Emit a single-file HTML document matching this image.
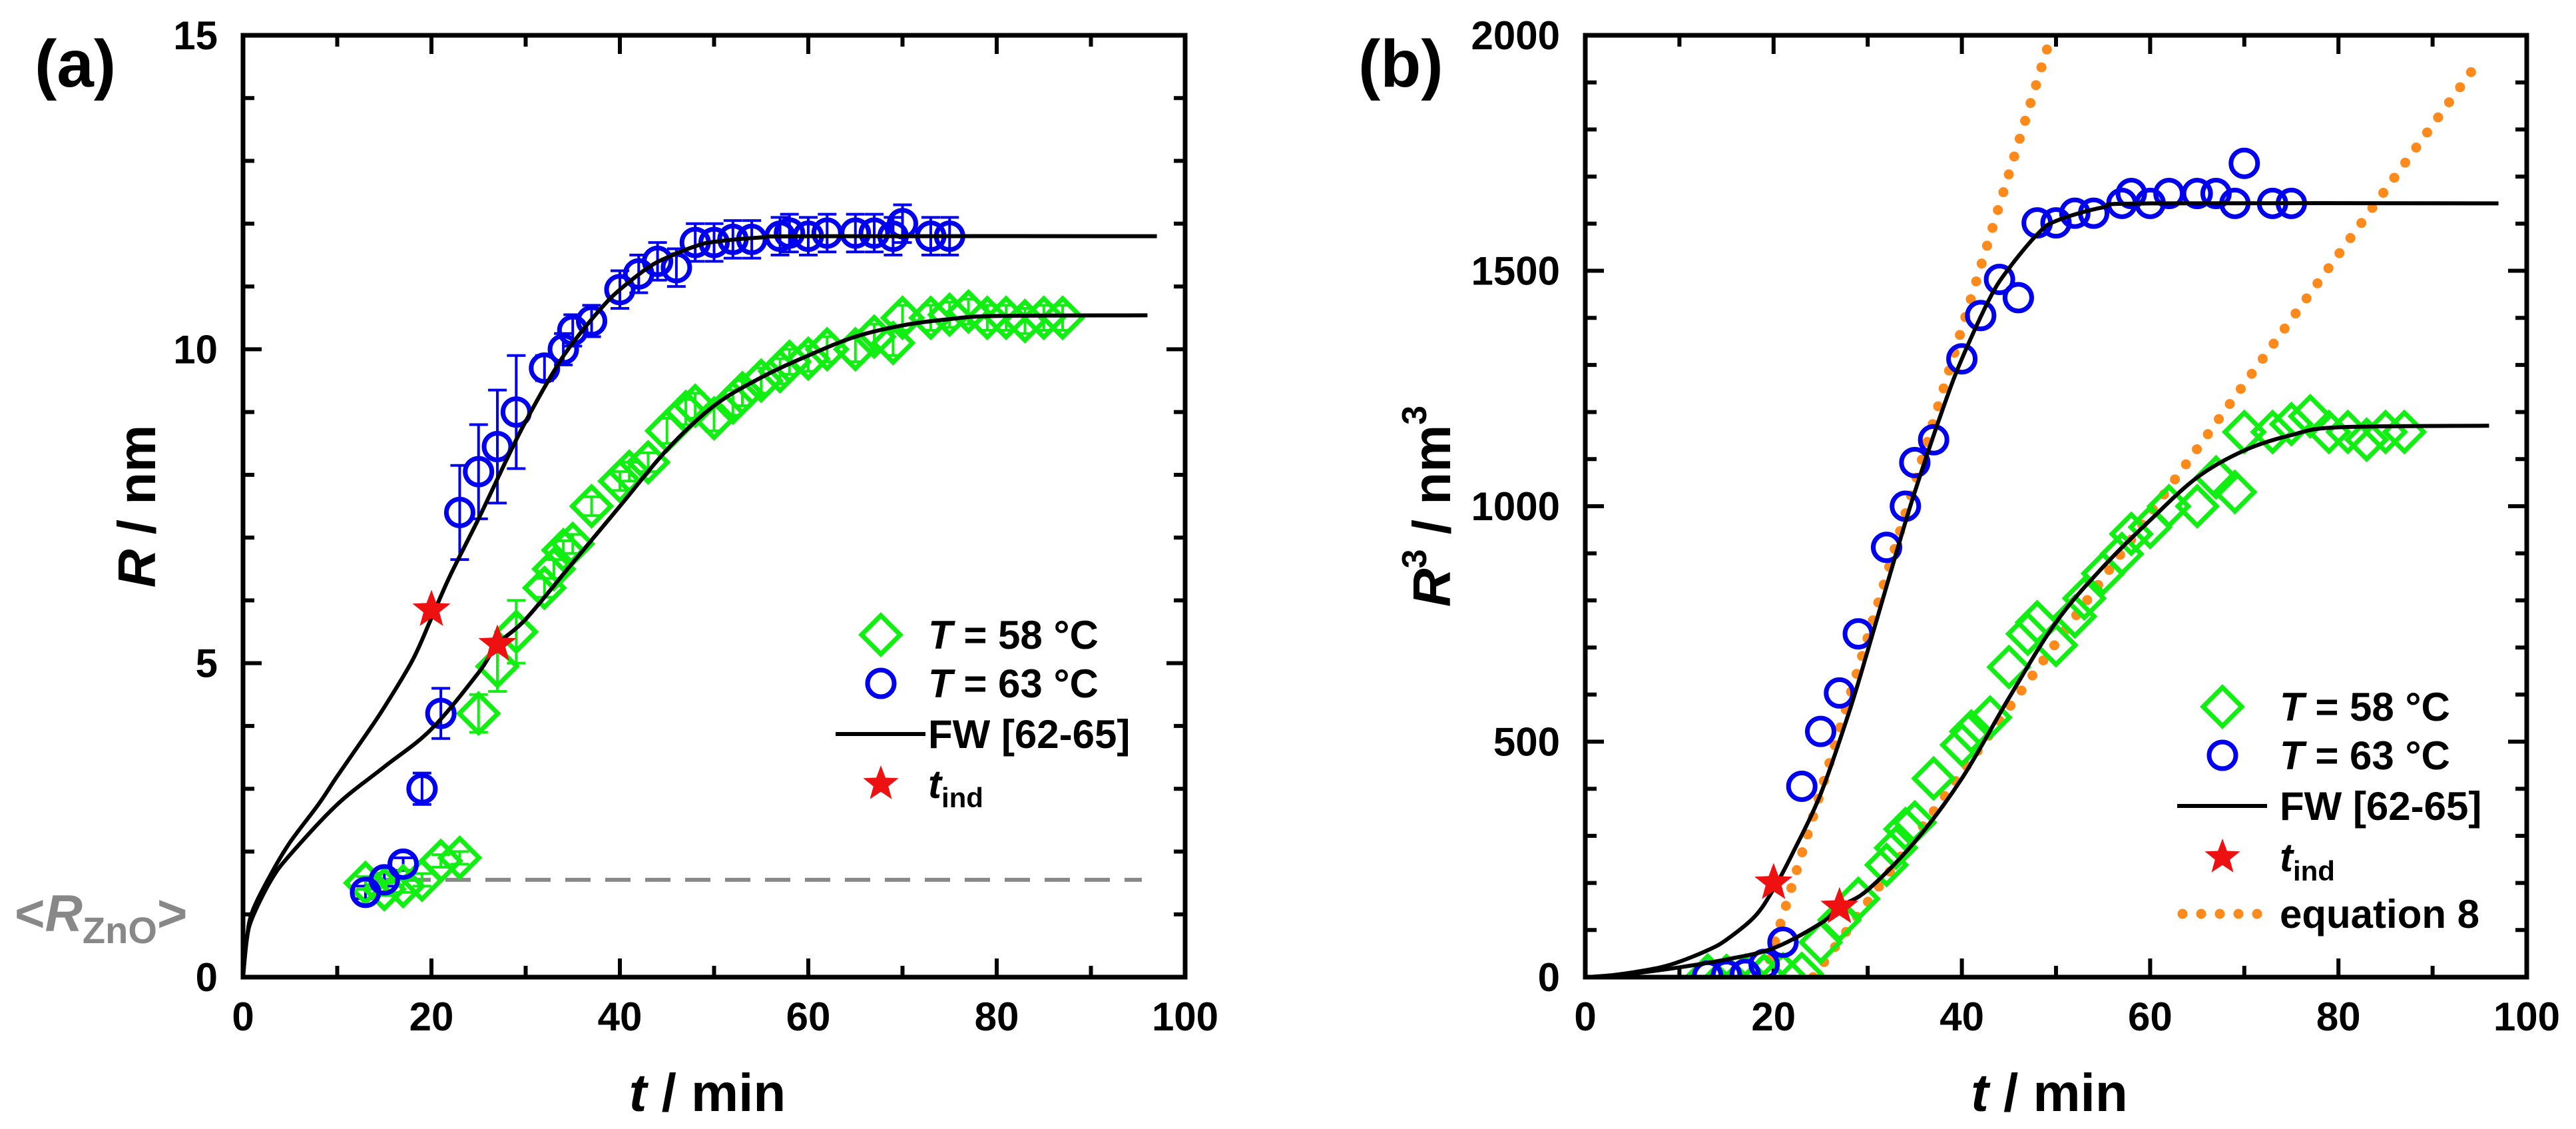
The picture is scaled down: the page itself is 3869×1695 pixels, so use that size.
<!DOCTYPE html>
<html><head><meta charset="utf-8"><style>
html,body{margin:0;padding:0;background:#fff;}
svg{display:block;font-family:"Liberation Sans",Arial,sans-serif;font-weight:bold;}
</style></head><body>
<svg id="fig" width="3869" height="1695" viewBox="0 0 3869 1695" xmlns="http://www.w3.org/2000/svg"></svg>
<script>
const t63 = [13,15,17,19,21,23,25,27,29,32,34,35,37,40,42,44,46,48,50,52,54,57,58,60,62,65,67,69,70,73,75];
const r63 = [1.35,1.55,1.8,3.0,4.2,7.4,8.05,8.45,9.0,9.7,10.0,10.3,10.45,10.95,11.2,11.4,11.3,11.7,11.7,11.75,11.75,11.8,11.85,11.8,11.85,11.85,11.85,11.8,12.0,11.8,11.8];
const e63 = [0.1,0.1,0.1,0.25,0.4,0.75,0.75,0.9,0.9,0.2,0.25,0.25,0.25,0.3,0.3,0.3,0.3,0.3,0.3,0.3,0.3,0.3,0.3,0.3,0.3,0.3,0.3,0.3,0.3,0.3,0.3];
const t58 = [13,15,17,19,21,23,25,27,29,32,33,34,35,37,40,41,43,45,47,48,50,52,53,55,57,58,60,62,65,67,69,70,73,75,77,79,81,83,85,87];
const r58 = [1.5,1.4,1.45,1.55,1.85,1.9,4.2,4.95,5.5,6.2,6.5,6.8,6.9,7.5,7.9,8.05,8.2,8.7,9.0,9.1,8.9,9.15,9.3,9.5,9.65,9.8,9.85,10.0,10.0,10.2,10.1,10.5,10.5,10.55,10.6,10.5,10.5,10.45,10.5,10.5];
const e58 = [0.1,0.1,0.1,0.1,0.1,0.1,0.3,0.4,0.5,0.15,0.15,0.15,0.15,0.15,0.15,0.15,0.15,0.2,0.2,0.2,0.2,0.2,0.2,0.2,0.2,0.2,0.2,0.2,0.2,0.2,0.2,0.2,0.2,0.2,0.2,0.2,0.2,0.2,0.2,0.2];
const fitT63 = [0,0.4,1,3,5,8,10,13,15,18,20,22,25,28,30,33,35,38,40,43,45,48,50,55,60,97];
const fitR63 = [0,0.6,1.05,1.65,2.15,2.75,3.2,3.85,4.3,5.05,5.72,6.4,7.3,8.25,8.85,9.65,10.1,10.65,10.95,11.3,11.46,11.64,11.71,11.78,11.8,11.8];
const fitT58 = [0,0.4,1,3,5,10,15,20,25,27,30,35,40,45,50,55,60,65,70,75,80,96];
const fitR58 = [0,0.6,0.95,1.55,1.95,2.75,3.35,3.95,4.85,5.3,5.7,6.6,7.5,8.4,9.1,9.55,9.9,10.2,10.38,10.48,10.53,10.54];
const indT = [20,27];
const indR = [5.85,5.3];
const eq8Blue = [19,65.6];
const eq8Green = [24.2,27.5];
const eq8End = [49.5,95];
const rZnO = 1.55;
const xTicks = [0,20,40,60,80,100];
const yTicksA = [0,5,10,15];
const yTicksB = [0,500,1000,1500,2000];

const NS="http://www.w3.org/2000/svg";
const svg=document.getElementById('fig');
function mk(tag,attrs,parent){const e=document.createElementNS(NS,tag);for(const k in attrs)e.setAttribute(k,attrs[k]);(parent||svg).appendChild(e);return e;}
function txt(s,attrs,parent){const e=mk('text',attrs,parent);e.textContent=s;return e;}

const panels=[{L:365,R:1780,T:53,B:1467,ymax:15,cube:false,name:'panel-a'},{L:2381,R:3795,T:53,B:1467,ymax:2000,cube:true,name:'panel-b'}];

function smoothPath(pts){let d='M'+pts[0][0]+','+pts[0][1];
 for(let i=0;i<pts.length-1;i++){const p0=pts[Math.max(0,i-1)],p1=pts[i],p2=pts[i+1],p3=pts[Math.min(pts.length-1,i+2)];
  const c1=[p1[0]+(p2[0]-p0[0])/6,p1[1]+(p2[1]-p0[1])/6],c2=[p2[0]-(p3[0]-p1[0])/6,p2[1]-(p3[1]-p1[1])/6];
  d+=' C'+c1[0]+','+c1[1]+' '+c2[0]+','+c2[1]+' '+p2[0]+','+p2[1];}
 return d;}
function star(g,cx,cy,r,name){let pts=[];for(let i=0;i<10;i++){const a=-Math.PI/2+i*Math.PI/5;const rr=i%2?r*0.42:r;pts.push((cx+rr*Math.cos(a)).toFixed(1)+','+(cy+rr*Math.sin(a)).toFixed(1));}
 const s=mk('polygon',{points:pts.join(' '),fill:'#ee1111'},g);
 
 }
function diamond(g,cx,cy,name){const d=29;const p=mk('polygon',{points:`${cx},${cy-d} ${cx+d},${cy} ${cx},${cy+d} ${cx-d},${cy}`,fill:'none',stroke:'#11ee11','stroke-width':7},g);
 
 }
function circle(g,cx,cy,name){const c=mk('circle',{cx:cx,cy:cy,r:20,fill:'none',stroke:'#0000ee','stroke-width':7},g);
 
 }

panels.forEach((P,pi)=>{
 const g=mk('g',{});
 
 
 const X=t=>P.L+(t/100)*(P.R-P.L);
 const Y=v=>P.B-(v/P.ymax)*(P.B-P.T);
 const f=v=>P.cube?v*v*v:v;
 const cid='clip'+pi;const cp=mk('clipPath',{id:cid},g);mk('rect',{x:P.L,y:P.T,width:P.R-P.L,height:P.B-P.T},cp);
 for(let t=0;t<=100;t+=10){const len=(t%20===0)?28:17;
  mk('line',{x1:X(t),x2:X(t),y1:P.B,y2:P.B-len,stroke:'#000','stroke-width':6},g);
  mk('line',{x1:X(t),x2:X(t),y1:P.T,y2:P.T+len,stroke:'#000','stroke-width':6},g);}
 const minorStep=P.cube?100:1,majorStep=P.cube?500:5;
 for(let v=0;v<=P.ymax+1e-9;v+=minorStep){const len=(Math.abs(v/majorStep-Math.round(v/majorStep))<1e-6)?28:17;
  mk('line',{x1:P.L,x2:P.L+len,y1:Y(v),y2:Y(v),stroke:'#000','stroke-width':6},g);
  mk('line',{x1:P.R,x2:P.R-len,y1:Y(v),y2:Y(v),stroke:'#000','stroke-width':6},g);}
 xTicks.forEach(t=>{const e=txt(String(t),{x:X(t),y:1547,'font-size':60,'text-anchor':'middle'},g);
  
  });
 (P.cube?yTicksB:yTicksA).forEach(v=>{const e=txt(String(v),{x:P.L-38,y:Y(v)+21,'font-size':60,'text-anchor':'end'},g);
  
  });
 const dg=mk('g',{'clip-path':`url(#${cid})`},g);
 if(!P.cube){const l=mk('line',{x1:X(13),x2:X(95.4),y1:Y(rZnO),y2:Y(rZnO),stroke:'#888','stroke-width':6,'stroke-dasharray':'38 22'},dg);
  
  }
 if(P.cube){[[eq8Blue,eq8End[0]],[eq8Green,eq8End[1]]].forEach(([p,te],i)=>{
  const l=mk('line',{x1:X(p[0]),y1:Y(0),x2:X(te),y2:Y(p[1]*(te-p[0])),stroke:'#ff8a1c','stroke-width':15,'stroke-linecap':'round','stroke-dasharray':'0 28'},dg);
  
  });}
 if(!P.cube){[[t58,r58,e58,'#11ee11'],[t63,r63,e63,'#0000ee']].forEach(([T,R,E,c])=>{
  T.forEach((t,i)=>{const x=X(t),y1=Y(R[i]-E[i]),y2=Y(R[i]+E[i]);
   const eb=mk('path',{d:`M${x},${y1}V${y2}M${x-14},${y1}H${x+14}M${x-14},${y2}H${x+14}`,stroke:c,'stroke-width':4,fill:'none'},dg);
   
   });});}
 t58.forEach((t,i)=>diamond(dg,X(t),Y(f(r58[i])),'point-58c'));
 t63.forEach((t,i)=>circle(dg,X(t),Y(f(r63[i])),'point-63c'));
 [[fitT63,fitR63],[fitT58,fitR58]].forEach(([T,R],k)=>{
  const pts=T.map((t,i)=>[X(t),Y(f(R[i]))]);
  const p=mk('path',{d:smoothPath(pts),fill:'none',stroke:'#000','stroke-width':6},dg);
  
  });
 indT.forEach((t,i)=>star(dg,X(t),Y(f(indR[i])),30,'induction-time-star'));
 const fr=mk('rect',{x:P.L,y:P.T,width:P.R-P.L,height:P.B-P.T,fill:'none',stroke:'#000','stroke-width':7},g);
 
 
 const xt=mk('text',{x:(P.L+P.R)/2-10,y:1668,'font-size':80,'text-anchor':'middle'},g);
 
 
 xt.innerHTML='<tspan font-style="italic">t</tspan> / min';
 const cx=P.cube?2150:205;
 const yt=mk('text',{x:cx,y:760,'font-size':80,'text-anchor':'middle',transform:`rotate(-90 ${cx} 760)`},g);
 
 
 yt.innerHTML=P.cube?'<tspan font-style="italic" dy="28">R</tspan><tspan font-size="52" dy="-36">3</tspan><tspan dy="36"> / nm</tspan><tspan font-size="52" dy="-36">3</tspan>':'<tspan font-style="italic" dy="28">R</tspan> / nm';
 const pl=txt(P.cube?'(b)':'(a)',{x:P.cube?2040:52,y:130,'font-size':100},g);
 
 
 const lg=mk('g',{},g);
 
 
 const mx=P.cube?3338:1323, tx=P.cube?3424:1394, rows=P.cube?[1061,1134,1210,1287,1372]:[953,1026,1102,1177];
 diamond(lg,mx,rows[0],'legend-marker-58c');
 circle(lg,mx,rows[1],'legend-marker-63c');
 mk('line',{x1:mx-68,x2:mx+67,y1:rows[2],y2:rows[2],stroke:'#000','stroke-width':6},lg);
 star(lg,mx,rows[3],28,'legend-marker-tind');
 const lt=[['<tspan font-style="italic">T</tspan> = 58 °C'],['<tspan font-style="italic">T</tspan> = 63 °C'],['FW [62-65]'],['<tspan font-style="italic">t</tspan><tspan font-size="42" dy="14">ind</tspan>']];
 if(P.cube){lt.push(['equation 8']);mk('line',{x1:mx-60,x2:mx+60,y1:rows[4],y2:rows[4],stroke:'#ff8a1c','stroke-width':15,'stroke-linecap':'round','stroke-dasharray':'0 28'},lg);}
 lt.forEach((s,i)=>{const e=mk('text',{x:tx,y:rows[i]+21,'font-size':60},lg);e.innerHTML=s[0];
  
  });
});
const rz=mk('text',{x:22,y:1398,'font-size':78,fill:'#888'});


rz.innerHTML='&lt;<tspan font-style="italic">R</tspan><tspan font-size="56" dy="18">ZnO</tspan><tspan dy="-18">&gt;</tspan>';
</script>
</body></html>
